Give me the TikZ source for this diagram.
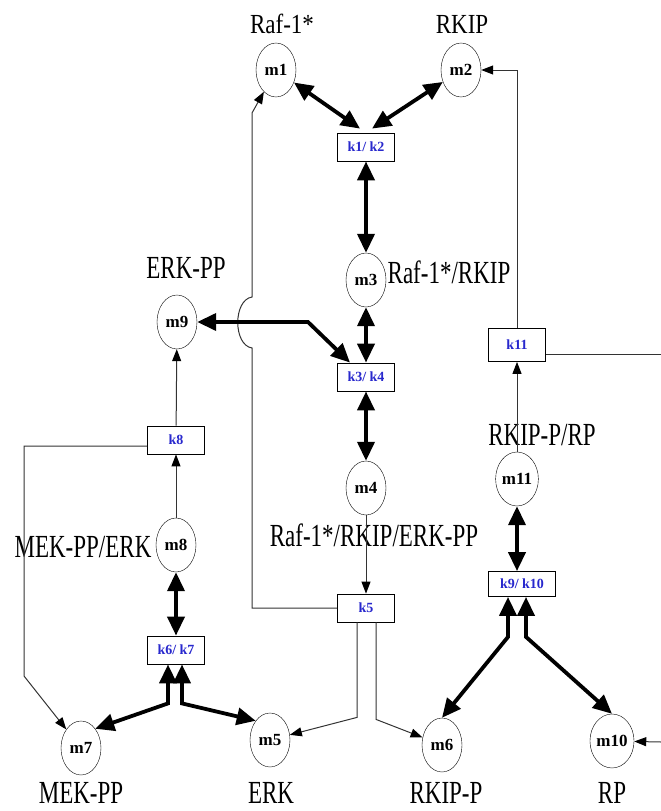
\documentclass[tikz,border=0pt]{standalone}
\usepackage{fontspec}
\setmainfont{Liberation Serif}
\usepackage{graphicx}
\usepackage{xcolor}
\usetikzlibrary{shapes.geometric, arrows.meta}
\definecolor{ratetxt}{RGB}{40,40,205}
\newcommand{\tall}[2][1.4]{\scalebox{1}[#1]{#2}}

\begin{document}
\begin{tikzpicture}[x=1pt,y=-1pt,
  species/.style={ellipse,draw,thin,minimum width=40pt,minimum height=54pt,inner sep=0pt,
    font=\bfseries\fontsize{17}{19}\selectfont},
  rate/.style={rectangle,draw,thick,minimum width=57pt,minimum height=28pt,inner sep=2pt,
    text=ratetxt,font=\bfseries\fontsize{14}{16}\selectfont},
  lab/.style={inner sep=0pt,font=\fontsize{23}{26}\selectfont},
  dbl/.style={line width=3.8pt,<->,>={Triangle[length=19pt,width=17pt]}},
  flow/.style={line width=1pt,draw=black!80,->,>={Triangle[length=12pt,width=9pt,color=black]}},
  wire/.style={line width=1pt,draw=black!80}]
  \useasboundingbox (0,0) rectangle (661,811);
  % species
  \foreach \n/\x/\y in {m1/276/70, m2/461/70, m3/366/280, m4/366/488, m5/270/740,
                        m6/442/745, m7/81/748, m8/176/545, m9/177/322, m10/612/741, m11/517/479}
    \node[species] (\n) at (\x,\y) {\n};
  % rate boxes
  \node[rate] (k12) at (366,147) {k1/ k2};
  \node[rate] (k34) at (366,377) {k3/ k4};
  \node[rate] (k5) at (366,608) {k5};
  \node[rate] (k67) at (176,650) {k6/ k7};
  \node[rate] (k8) at (176,440) {k8};
  \node[rate,minimum width=67pt,minimum height=25pt] (k910) at (522,584) {k9/ k10};
  \node[rate,minimum height=33pt] (k11) at (517,345) {k11};
  % names
  \node[lab] (lm1) at (282,24) {\tall[1.2]{Raf-1*}};
  \node[lab] (lm2) at (462,24) {\tall[1.2]{RKIP}};
  \node[lab] (lm3) at (449,272) {\tall{Raf-1*/RKIP}};
  \node[lab] (lm4) at (374,535) {\tall{Raf-1*/RKIP/ERK-PP}};
  \node[lab] (lm5) at (271,793) {\tall{ERK}};
  \node[lab] (lm6) at (446,793) {\tall{RKIP-P}};
  \node[lab] (lm7) at (81,793) {\tall{MEK-PP}};
  \node[lab] (lm8) at (83,547) {\tall{MEK-PP/ERK}};
  \node[lab] (lm9) at (186,268) {\tall{ERK-PP}};
  \node[lab] (lm10) at (612,793) {\tall{RP}};
  \node[lab] (lm11) at (542,435) {\tall{RKIP-P/RP}};
  \coordinate (rim11) at (661,354);
  \coordinate (rim10) at (661,742);
  % thin arrows
  \draw[flow] (k5.west) -| (252,348) .. controls (233,345) and (233,300) .. (252,297) -- (252,113) -- (m1);
  \draw[flow] (k11.north) -- (k11 |- m2) -- (m2);
  \draw[wire] (rim11 -| k11.east) -- (rim11);
  \draw[flow] (rim10) -- (m10);
  \draw[flow] (m11) -- (k11);
  \draw[flow] (m4) -- (k5);
  \draw[flow] ([xshift=-9pt]k5.south) -- ++(0,95) -- (m5);
  \draw[flow] ([xshift=10pt]k5.south) -- ++(0,97) -- (m6);
  \draw[flow] (m8) -- (k8);
  \draw[flow] (k8) -- (m9);
  \draw[flow] ([yshift=-6pt]k8.west) -| (24,676) -- (m7);
  % thick reversible arrows
  \draw[dbl] (m1) -- ([xshift=-6pt,yshift=4pt]k12.north);
  \draw[dbl] (m2) -- ([xshift=6pt,yshift=4pt]k12.north);
  \draw[dbl] (k12) -- (m3);
  \draw[dbl] (m3) -- (k34);
  \draw[dbl] (k34) -- (m4);
  \draw[dbl] (m9) -- (308,322) -- ([xshift=-16pt]k34.north);
  \draw[dbl] (m8) -- (k67);
  \draw[dbl] ([xshift=-8pt]k67.south) -- ++(0,39) -- (m7.north east);
  \draw[dbl] ([xshift=6pt]k67.south) -- ++(0,39) -- (m5.north west);
  \draw[dbl] (m11) -- (m11 |- k910.north);
  \draw[dbl] ([xshift=-14pt]k910.south) -- ++(0,40) -- (m6.north);
  \draw[dbl] ([xshift=4pt]k910.south) -- ++(0,40) -- (m10.north);
\end{tikzpicture}
\end{document}
